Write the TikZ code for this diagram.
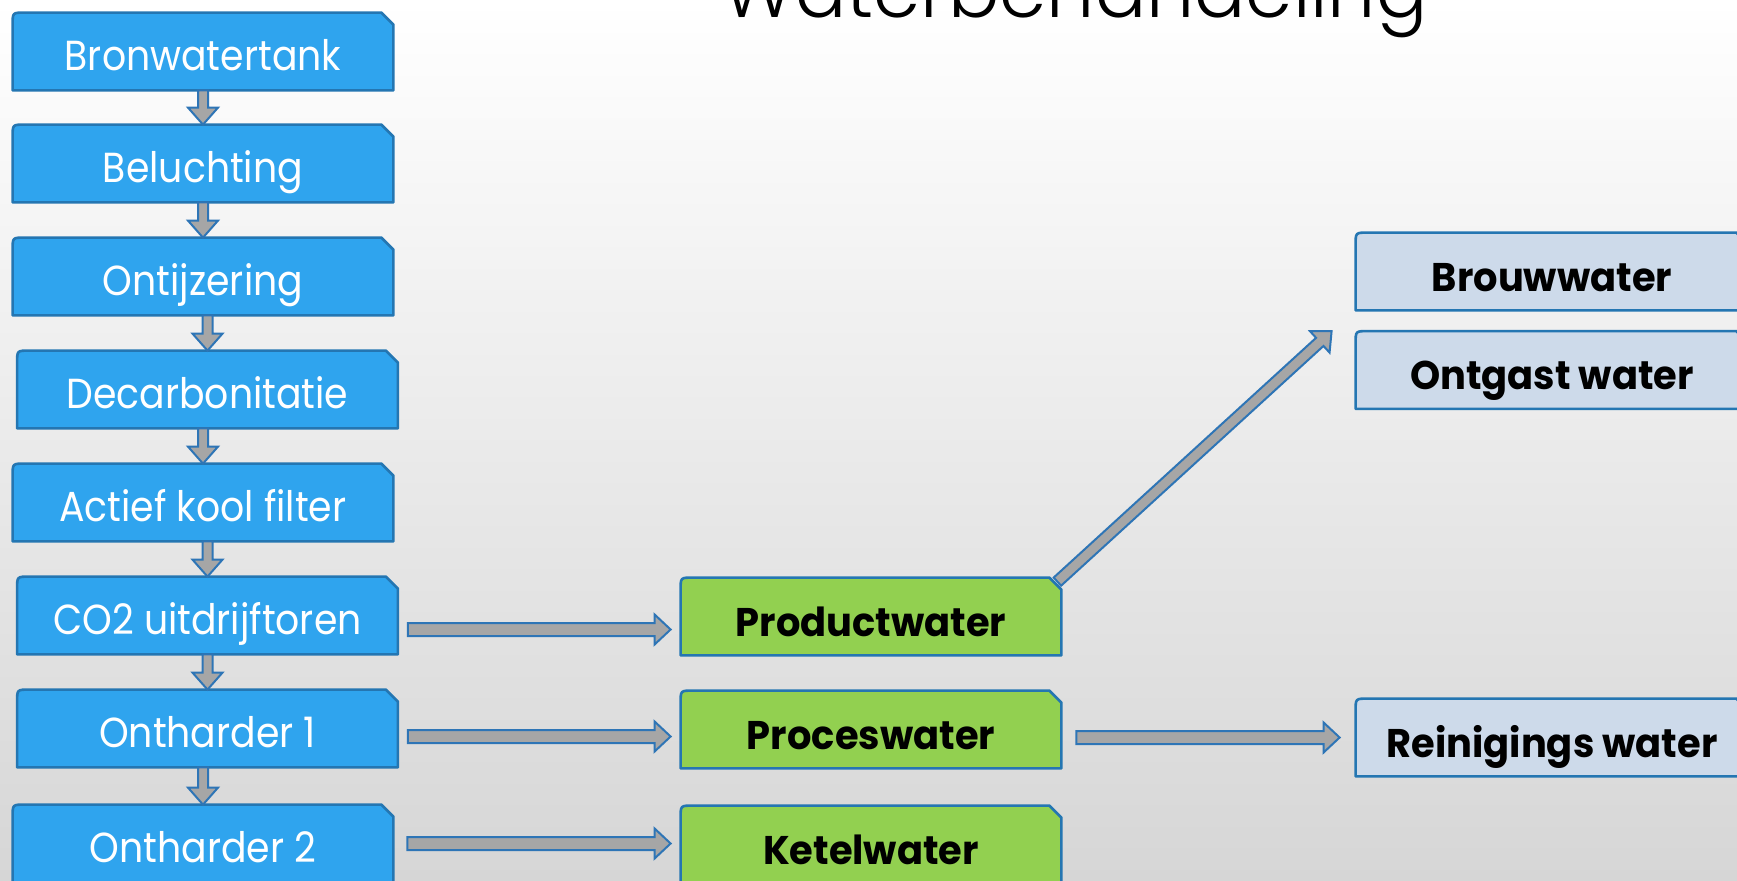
\documentclass[tikz,border=0pt]{standalone}
\usepackage{fontspec}
\setmainfont{Poppins}
\newfontfamily\boxfont{Poppins}[FakeStretch=0.9]
\newfontfamily\boldfont{Poppins Bold}[FakeStretch=0.96]
\newfontfamily\titlefont{Poppins Light}
\usetikzlibrary{calc}
\definecolor{bfill}{RGB}{47,164,238}
\definecolor{bline}{RGB}{36,118,178}
\definecolor{gfill}{RGB}{146,208,80}
\definecolor{lfill}{RGB}{205,218,234}
\definecolor{afill}{RGB}{166,166,166}
\definecolor{aline}{RGB}{46,117,182}
\definecolor{bgbot}{RGB}{214,214,214}
\pgfdeclarelayer{bg}
\pgfdeclarelayer{shp}
\pgfsetlayers{bg,shp,main}
\newcommand\snipshape[2]{%
  \draw[#2] (#1.south west) -- ([yshift=-6pt]#1.north west)
    .. controls (#1.north west) .. ([xshift=6pt]#1.north west)
    -- ([xshift=-6pt]#1.north east) -- ([yshift=-6pt]#1.north east)
    -- (#1.south east) -- cycle;}
\newcommand\barrow[5]{%
  \coordinate (ba-c) at ($(#2)!#5!(#1)$);
  \draw[arrowshape] ($(#1)!#3!90:(#2)$) -- ($(ba-c)!#3!90:(#2)$)
    -- ($(ba-c)!#4!90:(#2)$) -- (#2) -- ($(ba-c)!#4!-90:(#2)$)
    -- ($(ba-c)!#3!-90:(#2)$) -- ($(#1)!#3!-90:(#2)$) -- cycle;}
\tikzset{
  boxnode/.style={rectangle, inner sep=0pt, minimum width=190pt, minimum height=38.5pt},
  leftbox/.style={boxnode, text=white, text height=18.5pt, text depth=0pt,
     font=\boxfont\fontsize{21}{24}\selectfont},
  greenbox/.style={boxnode, text=black, text height=19.5pt, text depth=0pt,
     font=\boldfont\fontsize{20}{24}\selectfont},
  lightbox/.style={greenbox, minimum width=196pt},
  blueshape/.style={fill=bfill, draw=bline, line width=1.3pt, line join=round},
  greenshape/.style={fill=gfill, draw=bline, line width=1.3pt, line join=round},
  lightshape/.style={fill=lfill, draw=bline, line width=1.3pt, line join=round},
  arrowshape/.style={fill=afill, draw=aline, line width=1pt, line join=miter},
}
\begin{document}
\begin{tikzpicture}[x=0.5pt,y=-0.5pt]
\useasboundingbox (0,0) rectangle (1737,880);
\begin{pgfonlayer}{bg}
  \shade[top color=white, bottom color=bgbot] (0pt,0pt) rectangle (868.5pt,-440pt);
\end{pgfonlayer}

\node[anchor=base, text=black] (title) at (1075,17) {\titlefont\fontsize{38}{40}\selectfont Waterbehandeling};

% left column
\node[leftbox] (L1) at (203,51.5) {Bronwatertank};
\node[leftbox] (L2) at (203,163.5) {Beluchting};
\node[leftbox] (L3) at (203,276.5) {Ontijzering};
\node[leftbox] (L4) at (207.5,389.5) {Decarbonitatie};
\node[leftbox] (L5) at (203,502.5) {Actief kool filter};
\node[leftbox] (L6) at (207.5,615.5) {CO2 uitdrijftoren};
\node[leftbox] (L7) at (207.5,728.5) {Ontharder 1};
\node[leftbox] (L8) at (203,843.5) {Ontharder 2};

% middle column
\node[greenbox] (P1) at (871,616.5) {Productwater};
\node[greenbox] (P2) at (871,729.5) {Proceswater};
\node[greenbox] (P3) at (871,844.5) {Ketelwater};

% right column
\node[lightbox] (B) at (1552,271.5) {Brouwwater};
\node[lightbox] (O) at (1552,370) {Ontgast water};
\node[lightbox] (R) at (1552,737.5) {Reinigings water};

\begin{pgfonlayer}{shp}
  \foreach \n in {L1,L2,L3,L4,L5,L6,L7,L8}{\snipshape{\n}{blueshape}}
  \foreach \n in {P1,P2,P3}{\snipshape{\n}{greenshape}}
  \foreach \n in {B,O,R}{\snipshape{\n}{lightshape}}
  % vertical arrows
  \foreach \a/\b in {L1/L2,L2/L3,L3/L4,L4/L5,L5/L6,L6/L7,L7/L8}{
    \coordinate (va-s) at (\b.north |- \a.south);
    \coordinate (va-e) at (\b.north);
    \barrow{va-s}{va-e}{2.5pt}{7.5pt}{8.5pt}
  }
  % horizontal arrows
  \coordinate (h6s) at ($(L6.east)+(10,14)$);
  \coordinate (h6e) at ($(h6s -| P1.west)+(-10,0)$);
  \barrow{h6s}{h6e}{3.25pt}{7.5pt}{8pt}
  \coordinate (h7s) at ($(L7.east)+(10,8)$);
  \coordinate (h7e) at ($(h7s -| P2.west)+(-10,0)$);
  \barrow{h7s}{h7e}{3.25pt}{7.5pt}{8pt}
  \coordinate (h8s) at ($(L8.east)+(14,0)$);
  \coordinate (h8e) at ($(h8s -| P3.west)+(-10,0)$);
  \barrow{h8s}{h8e}{3.25pt}{7.5pt}{8pt}
  \coordinate (h9s) at ($(P2.east)+(15,8)$);
  \coordinate (h9e) at ($(h9s -| R.west)+(-16,0)$);
  \barrow{h9s}{h9e}{3.25pt}{7.5pt}{8pt}
  % diagonal arrow
  \coordinate (ds) at ($(P1.north east)+(-4,4)$);
  \coordinate (de) at ($(O.north west)+(-24,0)$);
  \barrow{ds}{de}{2.75pt}{7.25pt}{8pt}
\end{pgfonlayer}
\end{tikzpicture}
\end{document}
